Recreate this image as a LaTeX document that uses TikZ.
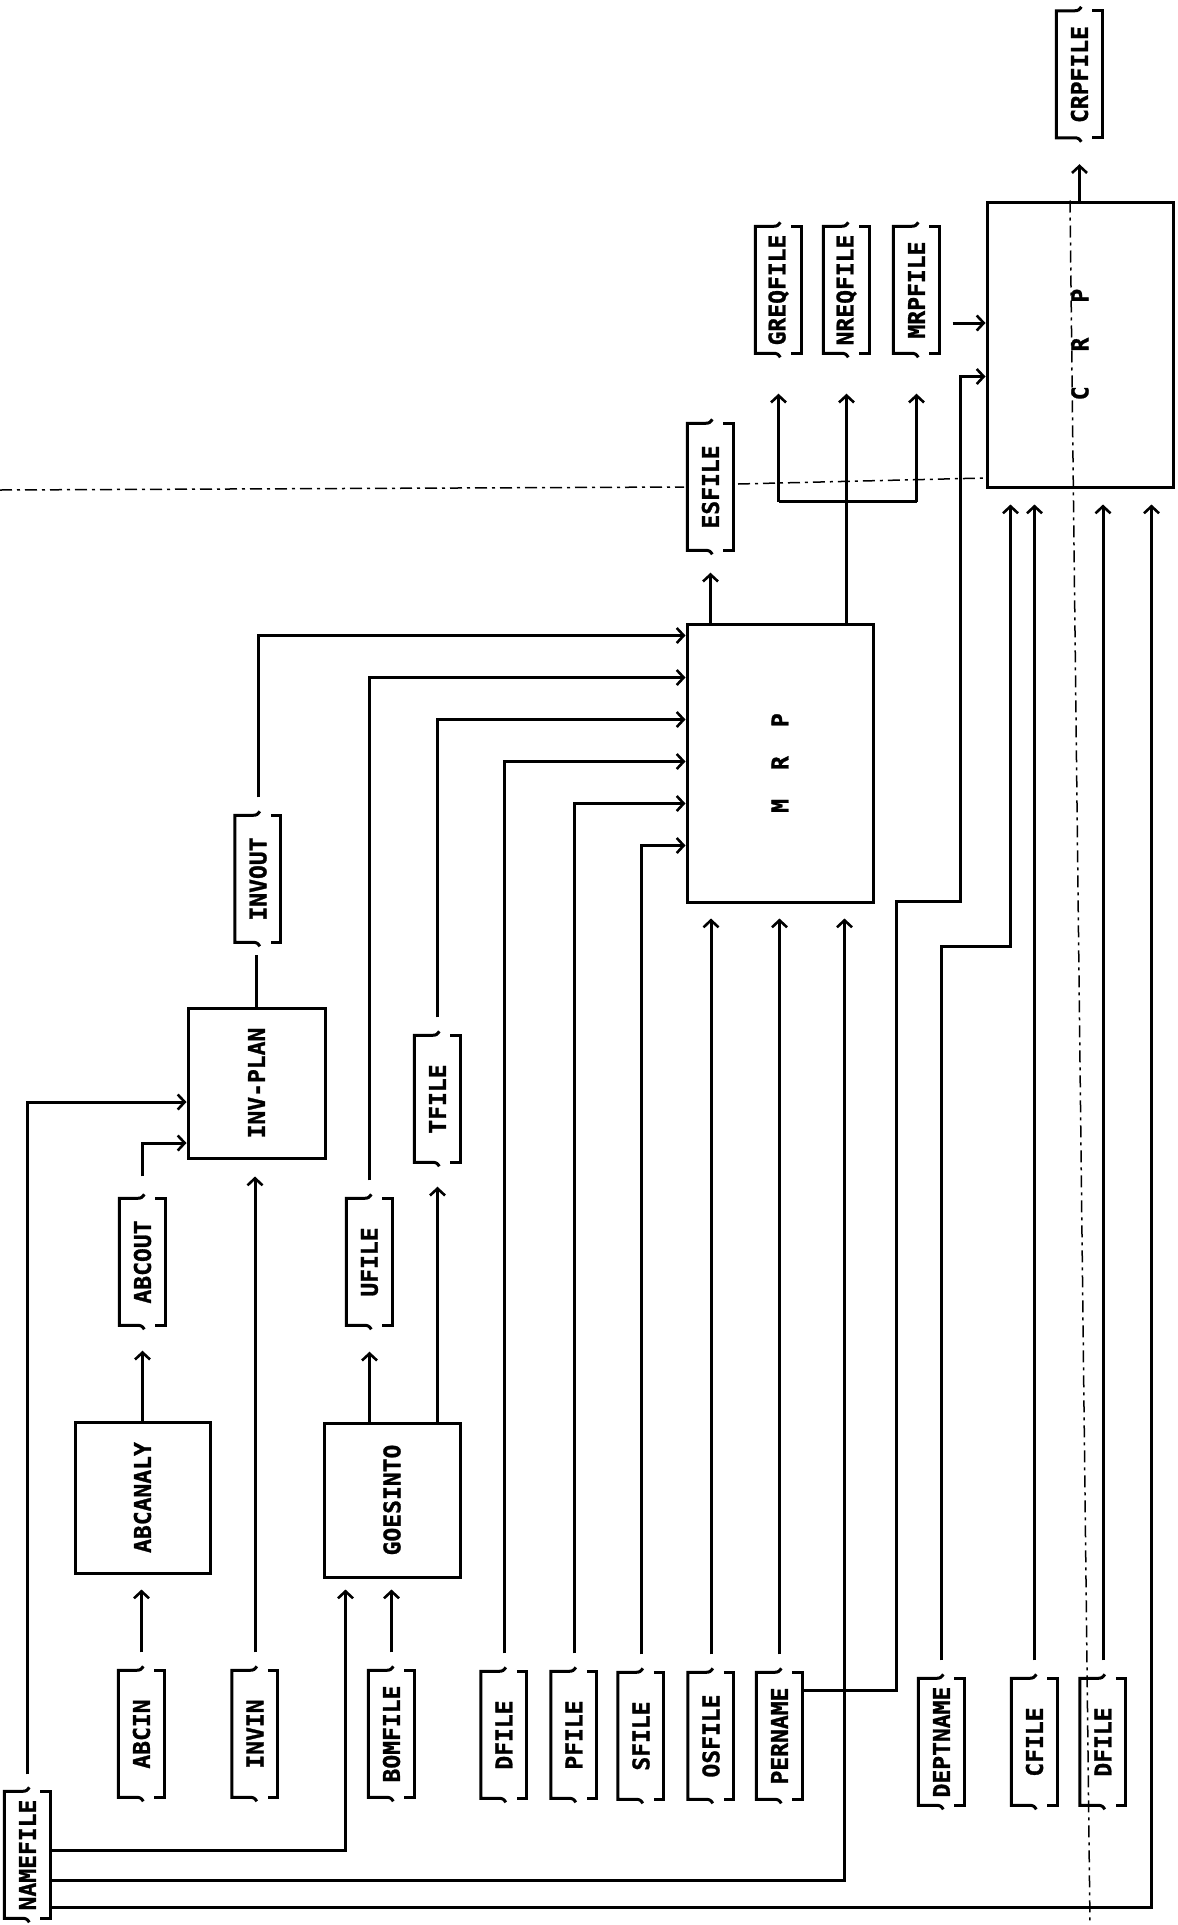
\documentclass[tikz,border=0pt]{standalone}
\usepackage{fontspec}
\usepackage{graphicx}
\newfontfamily\dotfont[BoldFeatures={FakeBold=1.2}]{DejaVu Sans Mono}
\usetikzlibrary{arrows.meta,calc}
\tikzset{
  ln/.style={line width=3pt},
  arr/.style={line width=3pt, -{Straight Barb[length=7pt,width=15pt,line width=2.6pt]}},
  brk/.style={line width=3pt, line join=miter},
  lbl/.style={font={\dotfont\bfseries\fontsize{23pt}{23pt}\selectfont}},
  filenode/.style={lbl, rectangle, inner sep=0pt, minimum width=46pt, minimum height=127pt},
  procbox/.style={lbl, draw, line width=3pt, rectangle, inner sep=0pt},
  dashln/.style={line width=1.5pt, dash pattern=on 12pt off 5pt on 3pt off 5pt},
}
\newcommand\datafile[3]{%
  \node[filenode] (#1) at (#2) {\rotatebox{90}{#3}};
  \begin{scope}[shift={(#1.north west)}]
    \draw[brk] (25,-4) .. controls (23,-1) and (22,0) .. (18,0) -- (0,0) -- (0,127) -- (18,127) .. controls (22,127) and (23,128) .. (25,131);
    \draw[brk] (36,0) -- (46,0) -- (46,127) -- (36,127);
  \end{scope}}
\begin{document}
\begin{tikzpicture}[x=1pt,y=-1pt]
\fill[white] (0,0) rectangle (1178,1925);
\useasboundingbox (0,0) rectangle (1178,1925);

% dashed guide lines
\draw[dashln] (0,490) -- (684,487);
\draw[dashln] (738,484) -- (985,478);

% process boxes
\node[procbox, minimum width=135pt, minimum height=151pt] (abcanaly) at (142.5,1497.5) {\rotatebox{90}{ABCANALY}};
\node[procbox, minimum width=136pt, minimum height=154pt] (goesinto) at (392,1500) {\rotatebox{90}{GOESINTO}};
\node[procbox, minimum width=137pt, minimum height=150pt] (invplan) at (256.5,1083) {\rotatebox{90}{INV-PLAN}};
\node[procbox, minimum width=186pt, minimum height=278pt] (mrp) at (780,763) {\rotatebox{90}{M\hspace{29pt}R\hspace{29pt}P}};
\node[procbox, minimum width=186pt, minimum height=285pt] (crp) at (1080,344.5) {\rotatebox{90}{C\hspace{35pt}R\hspace{35pt}P}};
\draw[dashln] ($(crp.north)+(-10,0)$) -- (1090,1925);

% data files
\datafile{namefile}{27.5,1855}{NAMEFILE}
\datafile{abcin}{141.5,1734}{ABCIN}
\datafile{invin}{255,1734}{INVIN}
\datafile{bomfile}{391.5,1734}{BOMFILE}
\datafile{dfilea}{504,1735}{DFILE}
\datafile{pfile}{574,1735}{PFILE}
\datafile{sfile}{641,1736}{SFILE}
\datafile{osfile}{711,1736}{OSFILE}
\datafile{pername}{779.5,1736}{PERNAME}
\datafile{deptname}{941.5,1742}{DEPTNAME}
\datafile{cfile}{1034.5,1742}{CFILE}
\datafile{dfileb}{1103,1742}{DFILE}
\datafile{abcout}{142.5,1262}{ABCOUT}
\datafile{ufile}{369.5,1262}{UFILE}
\datafile{tfile}{437.5,1099}{TFILE}
\datafile{invout}{258,879}{INVOUT}
\datafile{esfile}{710.5,487}{ESFILE}
\datafile{greqfile}{778.5,290}{GREQFILE}
\datafile{nreqfile}{846.5,290}{NREQFILE}
\datafile{mrpfile}{916.5,290}{MRPFILE}
\datafile{crpfile}{1079.5,74.5}{CRPFILE}

% connectors: ABC analysis and inventory planning
\draw[arr] ($(abcin.north)+(0,-18)$) -- ($(abcin.north |- abcanaly.south)+(0,15)$);
\draw[arr] (abcanaly.north) -- ($(abcanaly.north |- abcout.south)+(0,25)$);
\draw[arr] ($(abcout.north)+(0,-22)$) |- ($(invplan.west)+(0,60)$);
\draw[arr] ($(namefile.north)+(0,-17)$) |- ($(invplan.west)+(0,19)$);
\draw[arr] ($(invin.north)+(0,-18)$) -- ($(invin.north |- invplan.south)+(0,17)$);
\draw[ln] (invplan.north) -- ($(invplan.north |- invout.south)+(0,12)$);

% GOESINTO
\draw[arr] ($(bomfile.north)+(0,-18)$) -- ($(bomfile.north |- goesinto.south)+(0,11)$);
\draw[arr] ($(namefile.east)+(0,-5)$) -| ($(goesinto.south west)+(23,11)$);
\draw[arr] (ufile.south |- goesinto.north) -- ($(ufile.south)+(0,26)$);
\draw[arr] (tfile.south |- goesinto.north) -- ($(tfile.south)+(0,24)$);

% inputs of MRP
\draw[arr] ($(invout.north)+(0,-18)$) |- ($(mrp.north west)+(0,13)$);
\draw[arr] ($(ufile.north)+(0,-18)$) |- ($(mrp.north west)+(0,55)$);
\draw[arr] ($(tfile.north)+(0,-18)$) |- ($(mrp.north west)+(0,97)$);
\draw[arr] ($(dfilea.north)+(0,-18)$) |- ($(mrp.north west)+(0,139)$);
\draw[arr] ($(pfile.north)+(0,-18)$) |- ($(mrp.north west)+(0,181)$);
\draw[arr] ($(sfile.north)+(0,-18)$) |- ($(mrp.north west)+(0,223)$);
\draw[arr] ($(osfile.north)+(0,-18)$) -- ($(osfile.north |- mrp.south)+(0,15)$);
\draw[arr] ($(pername.north)+(0,-18)$) -- ($(pername.north |- mrp.south)+(0,15)$);
\draw[arr] ($(namefile.east)+(0,25)$) -| ($(mrp.south west)+(159,15)$);

% outputs of MRP
\draw[arr] (esfile.south |- mrp.north) -- ($(esfile.south)+(0,22)$);
\draw[ln] (nreqfile.south |- mrp.north) -- ($(nreqfile.south)+(0,148)$) coordinate (dist);
\draw[ln] ($(greqfile.south)+(0,148)$) -- ($(mrpfile.south)+(0,148)$);
\draw[arr] ($(greqfile.south)+(0,148)$) -- ($(greqfile.south)+(0,40)$);
\draw[arr] (dist) -- ($(nreqfile.south)+(0,40)$);
\draw[arr] ($(mrpfile.south)+(0,148)$) -- ($(mrpfile.south)+(0,40)$);

% inputs of CRP
\draw[arr] ($(mrpfile.east)+(13,33)$) -- ($(mrpfile.east -| crp.west)+(0,33)$);
\draw[arr] ($(pername.east)+(0,-46)$) -| ($(mrp.south east)+(22,-2)$) -| ($(crp.north west)+(-25,176)$) -- ($(crp.north west)+(0,176)$);
\draw[arr] ($(deptname.north)+(0,-18)$) |- ($(crp.south west)+(25,458)$) -- ($(crp.south west)+(25,16)$);
\draw[arr] ($(cfile.north)+(0,-18)$) -- ($(cfile.north |- crp.south)+(0,16)$);
\draw[arr] ($(dfileb.north)+(0,-18)$) -- ($(dfileb.north |- crp.south)+(0,16)$);
\draw[arr] ($(namefile.east)+(0,52)$) -| ($(crp.south east)+(-23,16)$);

% output of CRP
\draw[arr] (crpfile.south |- crp.north) -- ($(crpfile.south)+(0,26)$);
\end{tikzpicture}
\end{document}
